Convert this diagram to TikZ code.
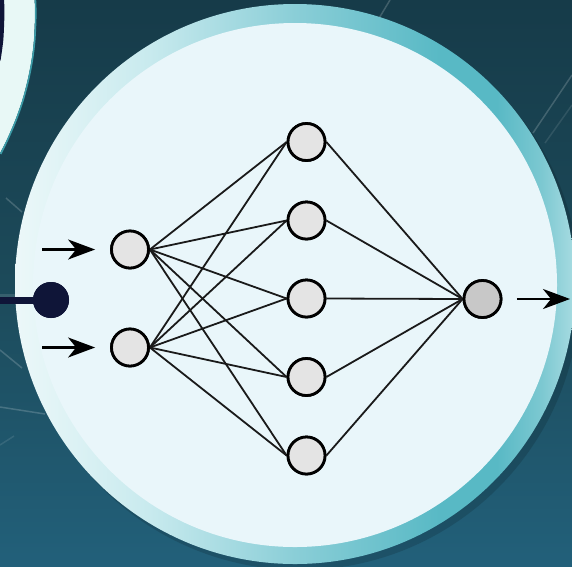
\documentclass[tikz,border=0pt]{standalone}
\usetikzlibrary{arrows.meta}
\definecolor{bgtop}{HTML}{163B49}
\definecolor{bgmid}{HTML}{1C4A5A}
\definecolor{bgbot}{HTML}{22607A}
\definecolor{navy}{HTML}{0F1538}
\definecolor{bandlight}{HTML}{E8F8F6}
\definecolor{bandedge}{HTML}{3C9CA8}
\definecolor{innerfill}{HTML}{E9F6FA}
\definecolor{nodefill}{HTML}{E4E4E4}
\definecolor{outfill}{HTML}{C8C8C8}
\definecolor{linec}{HTML}{1A1A1A}
\definecolor{r0}{HTML}{ECF8F9}
\definecolor{r1}{HTML}{C8EAEE}
\definecolor{r2}{HTML}{8ACED7}
\definecolor{r3}{HTML}{58B9C5}
\definecolor{r4}{HTML}{7CC8D1}
\definecolor{r5}{HTML}{A8DCE2}
\pgfdeclarehorizontalshading{ringshade}{100bp}{color(0bp)=(r0); color(25bp)=(r0); color(37bp)=(r1); color(50bp)=(r2); color(63bp)=(r3); color(68bp)=(r3); color(72bp)=(r4); color(75bp)=(r5); color(100bp)=(r5)}
\tikzset{
  neuron/.style={circle, draw=black, line width=2.8pt, fill=nodefill, minimum size=37pt, inner sep=0pt},
  outneuron/.style={neuron, fill=outfill},
  conn/.style={draw=linec, line width=1.8pt},
  arr/.style={draw=black, line width=2.4pt, -{Stealth[length=27pt, width=20pt, inset=8pt]}},
  streak/.style={draw=white, line width=1.5pt, opacity=0.18},
  dotnode/.style={circle, fill=navy, minimum size=36pt, inner sep=0pt}
}
\begin{document}
\begin{tikzpicture}[x=1pt, y=-1pt]
\useasboundingbox (0,0) rectangle (572,566);
% background
\shade[top color=bgtop, bottom color=bgbot, middle color=bgmid] (0,0) rectangle (572,566);
% streaks
\draw[streak] (390,0) -- (372,30);
\draw[streak] (572,75) -- (533,133);
\draw[streak, opacity=0.1] (572,105) -- (545,143);
\draw[streak] (6,198) -- (22,212);
\draw[streak] (0,350) -- (22,368);
\draw[streak] (0,407) -- (45,414);
\draw[streak, opacity=0.1] (0,445) -- (14,436);
\draw[draw=white, line width=10pt, opacity=0.12] (0,299) -- (16,299);
% top-left element: light band with thin teal edge, navy corner
\fill[bandlight] (0,0) -- (34.6,0)
  -- plot[smooth] coordinates {(34.6,0) (35,15) (33.9,40) (31.5,60) (27.6,80) (22.3,100) (15.3,120) (6.7,140) (0,153)}
  -- cycle;
\draw[bandedge, line width=1.6pt]
  plot[smooth] coordinates {(35.4,0) (35.8,15) (34.7,40) (32.3,60) (28.4,80) (23.1,100) (16.1,120) (7.5,140) (0.6,154)};
\fill[navy] (0,0) -- plot[smooth] coordinates {(4.1,0) (4.4,15) (3.3,40) (0.6,60)} -- (0,61) -- cycle;
% shadow
\fill[black, opacity=0.14] (300,290) circle [radius=280pt];
% ring and inner disc
\shade[shading=ringshade] (295,284) circle [radius=280pt];
\fill[innerfill] (295,285) circle [radius=262pt];
% dot on the left
\node[dotnode] (dot) at (51,300) {};
\coordinate (dotL) at (0,300);
\draw[navy, line width=7pt] (dotL) -- (dot.center);
\node[dotnode] at (dot.center) {};
% neurons
\node[neuron] (i1) at (130,249.5) {};
\node[neuron] (i2) at (130,347.5) {};
\node[neuron] (h1) at (306.5,142) {};
\node[neuron] (h2) at (306.5,220.5) {};
\node[neuron] (h3) at (306.5,298.5) {};
\node[neuron] (h4) at (306.5,377) {};
\node[neuron] (h5) at (306.5,455.5) {};
\node[outneuron] (o) at (482.5,299) {};
% connections
\foreach \i in {i1,i2}
  \foreach \h in {h1,h2,h3,h4,h5}
    \draw[conn] (\i.east) -- (\h.west);
\foreach \h in {h1,h2,h3,h4,h5}
  \draw[conn] (\h.east) -- (o.west);
% redraw neurons on top of the connectors
\foreach \n in {i1,i2,h1,h2,h3,h4,h5}
  \node[neuron] at (\n.center) {};
\node[outneuron] at (o.center) {};
% arrows
\coordinate (a1) at (42,249.5);
\coordinate (a2) at (42,347.5);
\coordinate (ob) at (570,299);
\draw[arr, shorten >=15pt] (a1) -- (i1);
\draw[arr, shorten >=15pt] (a2) -- (i2);
\draw[arr, shorten <=14.5pt] (o) -- (ob);
\end{tikzpicture}
\end{document}
